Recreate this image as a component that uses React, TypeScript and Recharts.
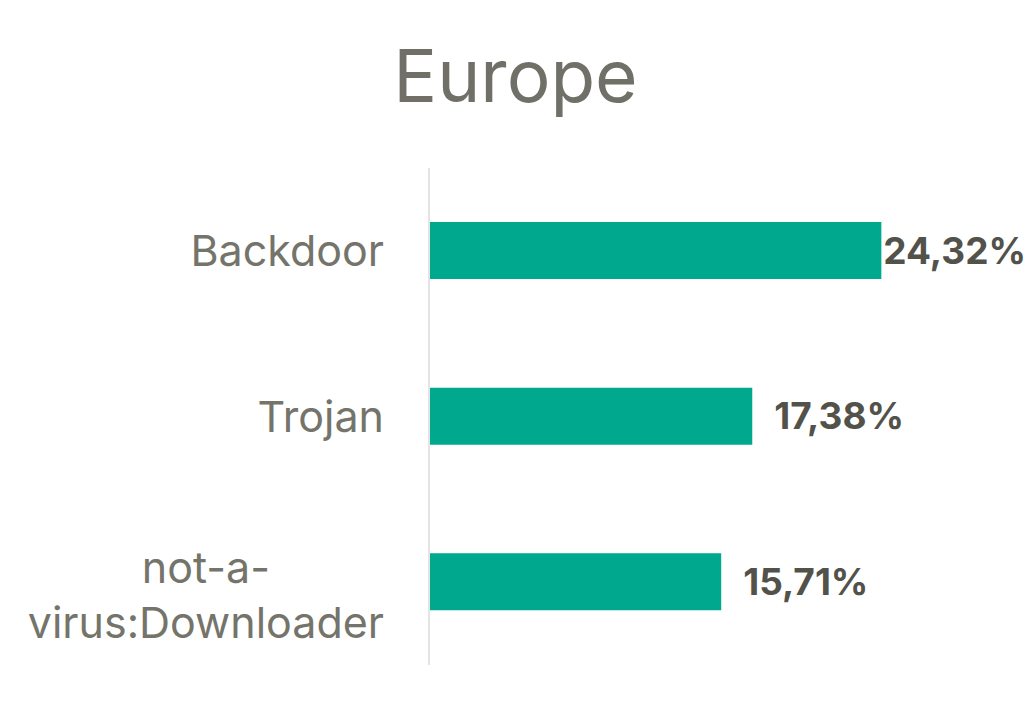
import React from "react";
import { BarChart, Bar, XAxis, YAxis, LabelList } from "recharts";

const categories = ["Backdoor", "Trojan", "not-a-virus:Downloader"];
const values = [24.32, 17.38, 15.71];
const valueLabels = ["24,32%", "17,38%", "15,71%"];
const tickLines: Record<string, string[]> = {
  "not-a-virus:Downloader": ["not-a-", "virus:Downloader"],
};

const data = categories.map((c, i) => ({ name: c, value: values[i], label: valueLabels[i] }));

const W = 1031;
const H = 709;
const FONT = "Inter, 'Noto Sans', sans-serif";
const TICK_SIZE = 43;
const VAL_SIZE = 37;

function measure(text: string, font: string): number {
  const c = document.createElement("canvas");
  const ctx = c.getContext("2d");
  if (!ctx) return text.length * 20;
  ctx.font = font;
  return ctx.measureText(text).width;
}

const CatTick = (props: any) => {
  const { x, y, payload } = props;
  const lines = tickLines[payload.value] || [payload.value];
  const right = x - 37;
  if (lines.length === 1) {
    return (
      <text x={right} y={y + 15} textAnchor="end" fill="#74746b" fontSize={TICK_SIZE} fontFamily={FONT}>
        {lines[0]}
      </text>
    );
  }
  const widths = lines.map((l) => measure(l, `${TICK_SIZE}px ${FONT}`));
  const maxW = Math.max(...widths);
  const cx = right - maxW / 2;
  const lh = 55;
  const startY = y + 15 - ((lines.length - 1) * lh) / 2 + 13;
  return (
    <text textAnchor="middle" fill="#74746b" fontSize={TICK_SIZE} fontFamily={FONT}>
      {lines.map((l, i) => (
        <tspan key={i} x={cx} y={startY + i * lh}>
          {l}
        </tspan>
      ))}
    </text>
  );
};

const ValueLabel = (props: any) => {
  const { x, y, width, height, value } = props;
  const end = x + width;
  const tw = measure(String(value), `bold ${VAL_SIZE}px ${FONT}`);
  const rightLimit = W - 6;
  const sx = Math.max(end + 2, Math.min(end + 22, rightLimit - tw));
  return (
    <text x={sx} y={y + height / 2 + 13} textAnchor="start" fill="#52524b" fontSize={VAL_SIZE} fontWeight={700} fontFamily={FONT}>
      {value}
    </text>
  );
};

export default function App() {
  return (
    <div style={{ position: "absolute", left: 0, top: 0, width: W, height: H, background: "#fff" }}>
      <div
        style={{
          position: "absolute",
          left: 0,
          top: 31,
          width: W,
          textAlign: "center",
          fontFamily: FONT,
          fontSize: 73,
          color: "#707068",
          lineHeight: "90px",
        }}
      >
        Europe
      </div>
      <BarChart
        width={W}
        height={H}
        data={data}
        layout="vertical"
        margin={{ top: 168, right: 44, bottom: 44, left: 0 }}
        barSize={57}
      >
        <XAxis type="number" domain={[0, 30]} hide />
        <YAxis
          type="category"
          dataKey="name"
          width={429}
          axisLine={{ stroke: "#e4e4e4", strokeWidth: 2 }}
          tickLine={false}
          tick={<CatTick />}
          interval={0}
        />
        <Bar dataKey="value" fill="#00a88e" isAnimationActive={false}>
          <LabelList dataKey="label" content={<ValueLabel />} />
        </Bar>
      </BarChart>
    </div>
  );
}
